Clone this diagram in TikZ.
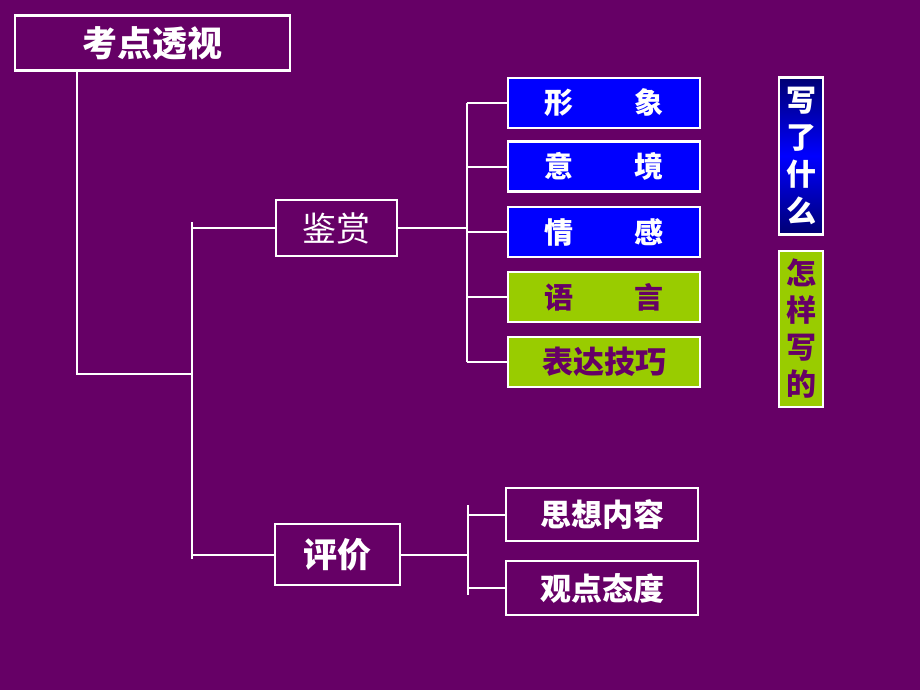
\documentclass[tikz,border=0pt]{standalone}
\usepackage{fontspec}
\setmainfont{Noto Sans CJK SC}
\usetikzlibrary{positioning}
\definecolor{plum}{HTML}{660066}
\definecolor{leaf}{HTML}{99CC00}
\tikzstyle{line} = [draw=white, line width=2pt]
\tikzstyle{box} = [draw=white, line width=2.5pt, text=white, inner sep=0pt]
\tikzstyle{blue} = [box, fill=blue, minimum width=192pt, minimum height=50pt, font=\fontsize{29}{30}\selectfont\bfseries]
\tikzstyle{green} = [box, fill=leaf, text=plum, minimum width=192pt, minimum height=50pt, font=\fontsize{29}{30}\selectfont\bfseries]
\tikzstyle{tall} = [box, minimum width=44pt, minimum height=157pt, align=center, font=\fontsize{30}{37}\selectfont\bfseries]

\begin{document}
\begin{tikzpicture}[x=1pt,y=-1pt]
    \path[fill=plum] (0,0) rectangle (920,690);
    \useasboundingbox (0,0) rectangle (920,690);

    \node[box, minimum width=275pt, minimum height=55pt, font=\fontsize{35}{38}\selectfont\bfseries] (kd) at (152.5,43) {考点透视};
    \node[box, minimum width=121pt, minimum height=56pt, font=\fontsize{34}{38}\selectfont] (jian) at (336.5,228) {鉴赏};
    \node[box, minimum width=125pt, minimum height=61pt, font=\fontsize{34}{38}\selectfont\bfseries] (ping) at (337.5,554.5) {评价};

    \node[blue] (xx) at (604,103) {形\hspace{62pt}象};
    \node[blue] (yj) at (604,166.5) {意\hspace{62pt}境};
    \node[blue] (qg) at (604,232) {情\hspace{62pt}感};
    \node[green] (yy) at (604,297) {语\hspace{62pt}言};
    \node[green, font=\fontsize{31}{32}\selectfont\bfseries] (bd) at (604,362) {表达技巧};

    \node[box, minimum width=192pt, minimum height=53pt, font=\fontsize{31}{32}\selectfont\bfseries] (sx) at (602,514.5) {思想内容};
    \node[box, minimum width=192pt, minimum height=54pt, font=\fontsize{31}{32}\selectfont\bfseries] (gd) at (602,588) {观点态度};

    \node[tall, top color=blue!45!black, bottom color=blue!45!black, middle color=blue] (what) at (801,156) {写\\了\\什\\么};
    \node[tall, fill=leaf, text=plum, minimum height=156pt] (how) at (801,329) {怎\\样\\写\\的};

    % junctions
    \coordinate (j0) at (77,374);
    \coordinate (j1top) at (192,222);
    \coordinate (j1bot) at (192,559);
    \coordinate (j2top) at (467,103);
    \coordinate (j2bot) at (467,362);
    \coordinate (j3top) at (468,505);
    \coordinate (j3bot) at (468,595);

    \draw[line] (kd.south -| j0) -- (j0) -- (j0 -| j1top);
    \draw[line] (j1top) -- (j1bot);
    \draw[line] (jian.west) -- (jian.west -| j1top);
    \draw[line] (ping.west) -- (ping.west -| j1top);

    \draw[line] (j2top) -- (j2bot);
    \draw[line] (jian.east) -- (jian.east -| j2top);
    \foreach \b in {xx,yj,qg,yy,bd}
    {
        \draw[line] (\b.west -| j2top) -- (\b.west);
    };

    \draw[line] (j3top) -- (j3bot);
    \draw[line] (ping.east) -- (ping.east -| j3top);
    \draw[line] (sx.west -| j3top) -- (sx.west);
    \draw[line] (gd.west -| j3top) -- (gd.west);
\end{tikzpicture}
\end{document}
